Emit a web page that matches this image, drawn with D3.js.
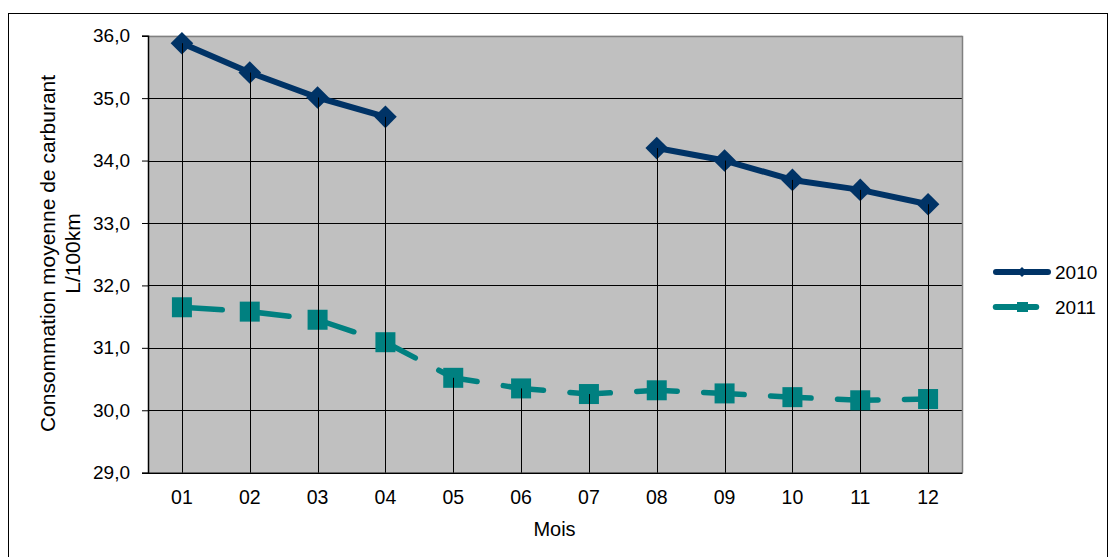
<!DOCTYPE html>
<html>
<head>
<meta charset="utf-8">
<script src="https://cdn.jsdelivr.net/npm/d3@7/dist/d3.min.js"></script>
<style>
  html, body { margin: 0; padding: 0; background: #fff; }
  svg { display: block; font-family: "Liberation Sans", Arial, sans-serif; }
</style>
</head>
<body>
<svg id="chart" width="1108" height="557"></svg>
<script>
// ---- data ----
const months = ["01","02","03","04","05","06","07","08","09","10","11","12"];
const values2010 = [35.88, 35.41, 35.01, 34.70, null, null, null, 34.20, 34.00, 33.69, 33.53, 33.30];
const values2011 = [31.65, 31.58, 31.45, 31.09, 30.52, 30.35, 30.26, 30.32, 30.27, 30.21, 30.16, 30.18];
const seriesNames = ["2010", "2011"];
const yTicks = [29, 30, 31, 32, 33, 34, 35, 36];
const yTitleLines = ["Consommation moyenne de carburant", "L/100km"];
const xTitle = "Mois";

// ---- layout ----
const svg = d3.select("#chart");
const L = 148, R = 962, T = 35.7, B = 472.7;
const navy = "#003366", teal = "#008080";

const x = d3.scaleBand().domain(months).range([L, R]).paddingInner(0).paddingOuter(0);
const cx = m => x(m) + x.bandwidth() / 2;
const y = d3.scaleLinear().domain([29, 36]).range([B, T]);
const fmt = v => d3.format(".1f")(v).replace(".", ",");

// outer frame
svg.append("rect").attr("x", 8.5).attr("y", 13.5).attr("width", 1099).attr("height", 600)
  .attr("fill", "none").attr("stroke", "#000").attr("stroke-width", 1);

// plot background
svg.append("rect").attr("x", L).attr("y", T).attr("width", R - L).attr("height", B - T)
  .attr("fill", "#C0C0C0");

// horizontal gridlines
svg.append("g").selectAll("line").data(yTicks.slice(1)).join("line")
  .attr("x1", L).attr("x2", R)
  .attr("y1", d => Math.round(y(d)) + 0.5).attr("y2", d => Math.round(y(d)) + 0.5)
  .attr("stroke", d => d === 36 ? "#808080" : "#000").attr("stroke-width", d => d === 36 ? 1.5 : 1);

// right border
svg.append("line").attr("x1", R + 0.5).attr("x2", R + 0.5).attr("y1", T).attr("y2", B)
  .attr("stroke", "#808080").attr("stroke-width", 1.5);

// y axis
const yAxis = d3.axisLeft(y).tickValues(yTicks).tickFormat(fmt).tickSize(6).tickPadding(12);
const gy = svg.append("g").attr("transform", `translate(${L},0)`).call(yAxis);
gy.select(".domain").attr("stroke", "#000").attr("stroke-width", 1.5);
gy.selectAll(".tick line").attr("stroke", "#000");
gy.selectAll(".tick text").attr("font-size", 19).attr("fill", "#000")
  .attr("font-family", "Liberation Sans, Arial, sans-serif");

// x axis
const xAxis = d3.axisBottom(x).tickSize(0).tickPadding(17);
const gx = svg.append("g").attr("transform", `translate(0,${B})`).call(xAxis);
gx.select(".domain").attr("stroke", "#000").attr("stroke-width", 1.5);
gx.selectAll(".tick text").attr("font-size", 19.5).attr("fill", "#000")
  .attr("font-family", "Liberation Sans, Arial, sans-serif");

// 2010 line
const line2010 = d3.line().defined(d => d.v !== null).x(d => cx(d.m)).y(d => y(d.v));
const d2010 = months.map((m, i) => ({ m, v: values2010[i] }));
const d2011 = months.map((m, i) => ({ m, v: values2011[i] }));

svg.append("path").datum(d2010).attr("d", line2010)
  .attr("fill", "none").attr("stroke", navy).attr("stroke-width", 6).attr("stroke-linejoin", "round");

svg.append("g").selectAll("path").data(d2010.filter(d => d.v !== null)).join("path")
  .attr("d", d3.symbol().type(d3.symbolSquare).size(16 * 16))
  .attr("transform", d => `translate(${cx(d.m)},${y(d.v)}) rotate(45)`)
  .attr("fill", navy);

// 2011 squares then dashed line
svg.append("g").selectAll("rect").data(d2011).join("rect")
  .attr("x", d => cx(d.m) - 10).attr("y", d => y(d.v) - 10)
  .attr("width", 20).attr("height", 20).attr("fill", teal);

svg.append("path").datum(d2011).attr("d", line2010)
  .attr("fill", "none").attr("stroke", teal).attr("stroke-width", 5.5)
  .attr("stroke-linecap", "round").attr("stroke-linejoin", "round")
  .attr("stroke-dasharray", "40.5,26.5");

// drop lines
svg.append("g").selectAll("line").data(months).join("line")
  .attr("x1", m => Math.round(cx(m)) + 0.5).attr("x2", m => Math.round(cx(m)) + 0.5)
  .attr("y1", (m, i) => y(d3.max([values2010[i], values2011[i]].filter(v => v !== null))))
  .attr("y2", B)
  .attr("stroke", "#000").attr("stroke-width", 1);

// axis titles
const yt = svg.append("text").attr("transform", "translate(55,253.5) rotate(-90)")
  .attr("text-anchor", "middle").attr("font-size", 21).attr("fill", "#000");
yt.append("tspan").attr("x", 0).attr("dy", 0).text(yTitleLines[0]);
yt.append("tspan").attr("x", 0).attr("dy", 25).text(yTitleLines[1]);

svg.append("text").attr("x", 554.5).attr("y", 535.5).attr("text-anchor", "middle")
  .attr("font-size", 20).attr("fill", "#000").text(xTitle);

// legend
const lg = svg.append("g");
const ly = [272, 307];
lg.append("line").attr("x1", 996).attr("x2", 1048).attr("y1", ly[0]).attr("y2", ly[0])
  .attr("stroke", navy).attr("stroke-width", 6).attr("stroke-linecap", "round");
lg.append("path").attr("d", d3.symbol().type(d3.symbolSquare).size(7 * 7))
  .attr("transform", `translate(1022,${ly[0]}) rotate(45)`).attr("fill", navy);
lg.append("line").attr("x1", 995.75).attr("x2", 1051).attr("y1", ly[1]).attr("y2", ly[1])
  .attr("stroke", teal).attr("stroke-width", 6).attr("stroke-linecap", "round")
  .attr("stroke-dasharray", "40.5,26.5");
lg.append("rect").attr("x", 1017).attr("y", ly[1] - 5).attr("width", 11).attr("height", 10).attr("fill", teal);
lg.selectAll("text").data(seriesNames).join("text")
  .attr("x", 1055).attr("y", (d, i) => ly[i] + 6.5)
  .attr("font-size", 19).attr("fill", "#000").text(d => d);
</script>
</body>
</html>
